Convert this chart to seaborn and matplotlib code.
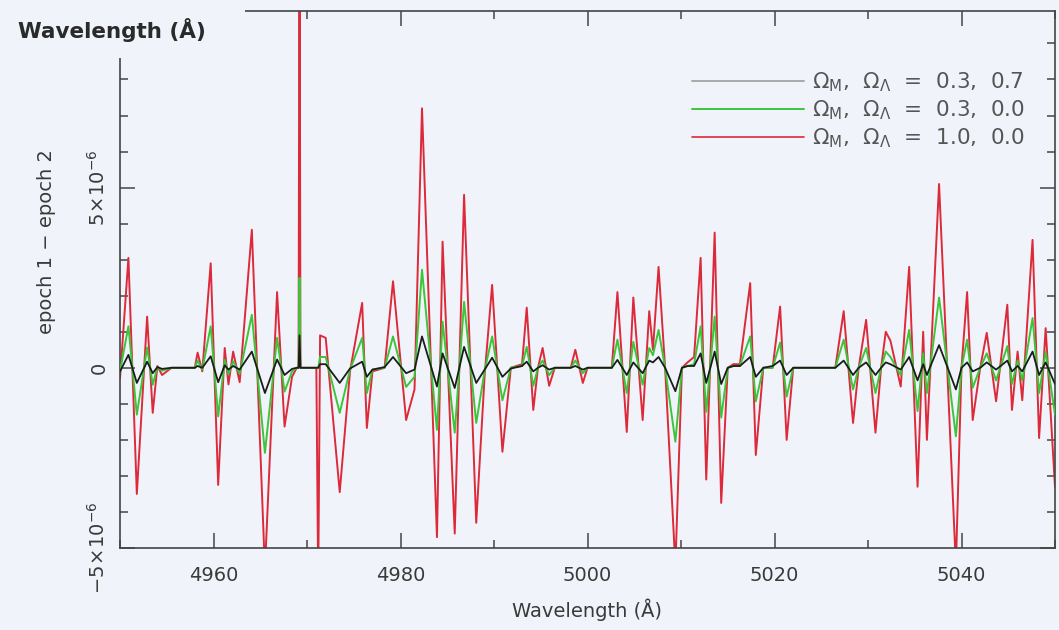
import numpy as np
import pandas as pd
import matplotlib
matplotlib.use("Agg")
import matplotlib.pyplot as plt
from matplotlib.lines import Line2D
from matplotlib.patches import Rectangle
from matplotlib.ticker import MultipleLocator
import seaborn as sns

# Wavelength samples (Angstrom) at the extrema of each spectral feature
wavelength = [
    4950.0, 4950.9, 4951.8, 4952.9, 4953.5, 4954.0, 4954.5, 4955.5, 4958.0, 4958.3,
    4958.8, 4959.7, 4960.5, 4961.2, 4961.6, 4962.1, 4962.8, 4964.1, 4965.5, 4966.8,
    4967.6, 4968.4, 4968.9, 4969.1, 4969.2, 4969.3, 4971.0, 4971.2, 4971.4, 4972.0,
    4973.5, 4974.6, 4975.9, 4976.4, 4977.0, 4978.3, 4979.2, 4980.6, 4981.5, 4982.3,
    4983.9, 4984.5, 4985.8, 4986.8, 4988.1, 4989.0, 4989.8, 4990.9, 4991.8, 4993.0,
    4993.5, 4994.2, 4994.7, 4995.2, 4995.9, 4996.5, 4998.2, 4998.7, 4999.5, 5000.0,
    5002.6, 5003.2, 5004.2, 5004.9, 5005.9, 5006.6, 5007.0, 5007.6, 5008.3, 5009.4,
    5010.1, 5010.7, 5011.4, 5012.1, 5012.7, 5013.6, 5014.3, 5015.0, 5015.6, 5016.3,
    5017.4, 5018.0, 5018.8, 5019.8, 5020.6, 5021.3, 5022.0, 5026.5, 5027.4, 5028.4,
    5029.0, 5029.8, 5030.8, 5031.4, 5031.9, 5032.4, 5033.5, 5034.4, 5035.3, 5035.9,
    5036.3, 5037.6, 5039.4, 5040.0, 5040.6, 5041.2, 5042.0, 5042.7, 5043.7, 5044.9,
    5045.4, 5046.0, 5046.5, 5047.6, 5048.3, 5049.0, 5050.0,
]

# epoch 1 - epoch 2 flux difference, in units of 1e-6
diff_m10_l00 = [
    -0.3, 3.05, -3.5, 1.42, -1.25, 0.05, -0.2, 0.0, 0.0, 0.42,
    -0.1, 2.9, -3.25, 0.55, -0.46, 0.45, -0.4, 3.83, -5.6, 2.1,
    -1.63, -0.25, 0.0, 0.0, 14.0, 0.0, 0.0, -6.0, 0.9, 0.83,
    -3.45, -0.1, 1.8, -1.67, -0.1, 0.0, 2.4, -1.45, -0.6, 7.2,
    -4.7, 3.5, -4.6, 4.8, -4.3, -0.2, 2.3, -2.33, 0.0, 0.1,
    1.67, -1.17, 0.0, 0.55, -0.5, 0.0, 0.0, 0.5, -0.42, 0.0,
    0.0, 2.1, -1.78, 1.95, -1.45, 1.57, 0.5, 2.8, 0.0, -5.5,
    0.0, 0.15, 0.3, 3.05, -3.1, 3.75, -3.75, 0.0, 0.1, 0.1,
    2.35, -2.42, 0.0, 0.0, 1.7, -2.0, 0.0, 0.0, 1.57, -1.53,
    0.0, 1.33, -1.8, 0.0, 1.0, 0.75, -0.52, 2.8, -3.3, 1.0,
    -2.0, 5.1, -5.5, 0.0, 2.1, -1.45, 0.0, 0.97, -0.93, 1.75,
    -1.17, 0.45, -0.9, 3.55, -1.95, 1.1, -3.3,
]

diff_m03_l00 = [
    -0.1, 1.15, -1.3, 0.56, -0.47, 0.02, -0.08, 0.0, 0.0, 0.2,
    -0.05, 1.15, -1.35, 0.22, -0.18, 0.18, -0.16, 1.47, -2.36, 0.83,
    -0.66, -0.1, 0.0, 0.0, 2.5, 0.0, 0.0, 0.0, 0.3, 0.3,
    -1.25, -0.05, 0.83, -0.7, -0.05, 0.0, 0.87, -0.53, -0.25, 2.72,
    -1.72, 1.28, -1.8, 1.83, -1.53, -0.08, 0.87, -0.9, 0.0, 0.05,
    0.58, -0.5, 0.0, 0.2, -0.2, 0.0, 0.0, 0.2, -0.15, 0.0,
    0.0, 0.78, -0.7, 0.72, -0.47, 0.55, 0.35, 1.05, 0.0, -2.05,
    0.0, 0.05, 0.1, 1.15, -1.22, 1.42, -1.38, 0.0, 0.05, 0.05,
    0.87, -0.93, 0.0, 0.0, 0.7, -0.8, 0.0, 0.0, 0.78, -0.6,
    0.0, 0.55, -0.7, 0.0, 0.45, 0.3, -0.2, 1.05, -1.2, 0.4,
    -0.7, 1.95, -1.9, 0.0, 0.78, -0.55, 0.0, 0.4, -0.35, 0.6,
    -0.45, 0.2, -0.35, 1.38, -0.7, 0.45, -1.3,
]

diff_m03_l07 = [
    -0.1, 0.36, -0.42, 0.17, -0.15, 0.02, -0.03, 0.0, 0.0, 0.05,
    0.0, 0.32, -0.4, 0.07, -0.05, 0.05, -0.05, 0.45, -0.7, 0.23,
    -0.2, -0.03, 0.0, 0.0, 0.9, 0.0, 0.0, 0.0, 0.1, 0.1,
    -0.42, -0.02, 0.17, -0.25, -0.05, 0.02, 0.3, -0.15, -0.05, 0.87,
    -0.52, 0.4, -0.56, 0.58, -0.42, -0.05, 0.28, -0.25, -0.02, 0.05,
    0.17, -0.1, 0.0, 0.07, -0.05, 0.0, 0.0, 0.05, -0.05, 0.0,
    0.0, 0.22, -0.2, 0.15, -0.15, 0.2, 0.15, 0.3, 0.0, -0.65,
    0.0, 0.05, 0.05, 0.4, -0.42, 0.45, -0.45, 0.0, 0.05, 0.05,
    0.3, -0.25, 0.0, 0.05, 0.2, -0.2, 0.0, 0.0, 0.2, -0.2,
    0.0, 0.15, -0.2, 0.0, 0.15, 0.1, -0.05, 0.3, -0.35, 0.1,
    -0.2, 0.63, -0.6, 0.0, 0.15, -0.1, 0.0, 0.15, -0.05, 0.2,
    -0.1, 0.05, -0.1, 0.45, -0.2, 0.15, -0.45,
]

labels = [
    r"$\Omega_{\rm M}$,  $\Omega_\Lambda$  =  0.3,  0.7",
    r"$\Omega_{\rm M}$,  $\Omega_\Lambda$  =  0.3,  0.0",
    r"$\Omega_{\rm M}$,  $\Omega_\Lambda$  =  1.0,  0.0",
]

BG = "#f0f4fa"
TXT = "#3a3a3a"
RED = "#dc2a3a"
GREEN = "#3cc43a"
DARK = "#1c1c1c"

sns.set_style("ticks")
plt.rcParams["font.family"] = ["DejaVu Sans"]
plt.rcParams["mathtext.fontset"] = "dejavusans"

fig = plt.figure(figsize=(10.59, 6.30), dpi=100, facecolor=BG)
ax = fig.add_axes([120 / 1059, 1 - 548 / 630, (1055 - 120) / 1059, (548 - 11) / 630])
ax.set_facecolor(BG)

df = pd.DataFrame({
    "wavelength": wavelength,
    "red": np.array(diff_m10_l00) * 1e-6,
    "green": np.array(diff_m03_l00) * 1e-6,
    "dark": np.array(diff_m03_l07) * 1e-6,
})

sns.lineplot(data=df, x="wavelength", y="red", color=RED, lw=1.4,
             estimator=None, sort=False, ax=ax, zorder=2)
sns.lineplot(data=df, x="wavelength", y="green", color=GREEN, lw=1.4,
             estimator=None, sort=False, ax=ax, zorder=3)
sns.lineplot(data=df, x="wavelength", y="dark", color=DARK, lw=1.3,
             estimator=None, sort=False, ax=ax, zorder=4)

ax.set_xlim(4950, 5050)
ax.set_ylim(-5e-6, 9.9e-6)

ax.xaxis.set_major_locator(MultipleLocator(20))
ax.xaxis.set_minor_locator(MultipleLocator(10))
ax.set_yticks([-5e-6, 0, 5e-6])
ax.set_yticklabels([r"$-5\!\times\!10^{-6}$", "0", r"$5\!\times\!10^{-6}$"],
                   rotation=90, va="center")
ax.yaxis.set_minor_locator(MultipleLocator(1e-6))

ax.tick_params(which="both", direction="in", top=True, right=True,
               colors="#444444", labelcolor=TXT, labelsize=14, width=1.1)
ax.tick_params(which="major", length=11)
ax.tick_params(which="minor", length=6)
ax.tick_params(axis="x", pad=13)
ax.tick_params(axis="y", pad=8)

for s in ax.spines.values():
    s.set_color("#444444")
    s.set_linewidth(1.2)

ax.set_xlabel("Wavelength (Å)", fontsize=14, color=TXT, labelpad=10)
ax.set_ylabel("epoch 1 − epoch 2", fontsize=14, color=TXT)
ax.yaxis.set_label_coords(-0.068, 0.57)

handles = [
    Line2D([], [], color="#a8a8a8", lw=1.4),
    Line2D([], [], color=GREEN, lw=1.4),
    Line2D([], [], color=RED, lw=1.2),
]
leg = ax.legend(handles, labels, loc="upper right",
                bbox_to_anchor=(1036 / 1059, 1 - 60 / 630),
                bbox_transform=fig.transFigure, frameon=False,
                fontsize=15.5, handlelength=5.2, handletextpad=0.4,
                labelspacing=0.2, borderpad=0.0)
for t in leg.get_texts():
    t.set_color("#555555")

# label of the panel above, overlapping this panel's corner
fig.patches.append(Rectangle((0, 1 - 58 / 630), 245 / 1059, 58 / 630,
                             transform=fig.transFigure, facecolor=BG,
                             edgecolor="none", zorder=5))
fig.text(18 / 1059, 1 - 30 / 630, "Wavelength (Å)", fontsize=15.5,
         color="#2a2a2a", fontweight="bold", va="center", ha="left", zorder=6)

fig.savefig("out.png", dpi=100, facecolor=BG)
